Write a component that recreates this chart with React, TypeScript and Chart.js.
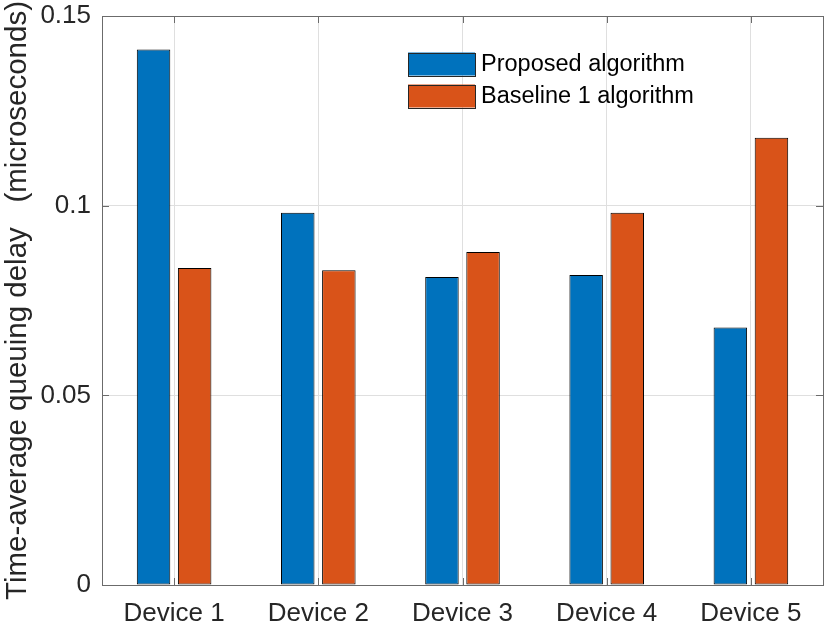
import React, { useEffect, useRef } from 'react';
import { Chart, registerables } from 'chart.js';

Chart.register(...registerables);

const categories = ['Device 1', 'Device 2', 'Device 3', 'Device 4', 'Device 5'];
const proposedDelay = [0.1412, 0.0981, 0.0812, 0.0817, 0.0679];
const baselineDelay = [0.0836, 0.0830, 0.0878, 0.0981, 0.1179];
const seriesNames = ['Proposed algorithm', 'Baseline 1 algorithm'];
const yTicks = [0, 0.05, 0.1, 0.15];

const FONT = "'Liberation Sans', Arial, Helvetica, sans-serif";
const TEXT = '#262626';

// matlab style box with inward ticks and a legend inside the axes
const matlabAxes = {
  id: 'matlabAxes',
  afterDatasetsDraw(chart: any) {
    const { ctx, chartArea } = chart;
    const { left, right, top, bottom } = chartArea;
    const xs = chart.scales.x;
    const ys = chart.scales.y;
    ctx.save();
    ctx.strokeStyle = '#6b6b6b';
    ctx.lineWidth = 1;
    ctx.strokeRect(Math.round(left) + 0.5, Math.round(top) + 0.5, Math.round(right - left), Math.round(bottom - top));
    const tl = 7;
    ctx.beginPath();
    categories.forEach((_, i) => {
      const x = Math.round(xs.getPixelForTick(i)) + 0.5;
      ctx.moveTo(x, bottom);
      ctx.lineTo(x, bottom - tl);
      ctx.moveTo(x, top);
      ctx.lineTo(x, top + tl);
    });
    yTicks.forEach((v) => {
      const y = Math.round(ys.getPixelForValue(v)) + 0.5;
      ctx.moveTo(left, y);
      ctx.lineTo(left + tl, y);
      ctx.moveTo(right, y);
      ctx.lineTo(right - tl, y);
    });
    ctx.stroke();

    // legend
    const bx = left + 306;
    const bw = 67;
    const bh = 23;
    const rows = [top + 48, top + 80];
    ctx.font = `23.5px ${FONT}`;
    ctx.textBaseline = 'middle';
    ctx.textAlign = 'left';
    chart.data.datasets.forEach((ds: any, i: number) => {
      const cy = rows[i];
      ctx.fillStyle = ds.backgroundColor;
      ctx.fillRect(bx, cy - bh / 2, bw, bh);
      ctx.strokeStyle = '#262626';
      ctx.strokeRect(bx + 0.5, Math.round(cy - bh / 2) + 0.5, bw, bh);
      ctx.fillStyle = '#000';
      ctx.fillText(ds.label, bx + bw + 6, cy + 1);
    });
    ctx.restore();
  },
};

export default function App() {
  const canvasRef = useRef<HTMLCanvasElement>(null);

  useEffect(() => {
    if (!canvasRef.current) return;
    const chart = new Chart(canvasRef.current, {
      type: 'bar',
      data: {
        labels: categories,
        datasets: [
          {
            label: seriesNames[0],
            data: proposedDelay,
            backgroundColor: '#0072BD',
            borderColor: '#000000',
            borderWidth: 1,
            borderSkipped: false,
            categoryPercentage: 0.57,
            barPercentage: 0.815,
          },
          {
            label: seriesNames[1],
            data: baselineDelay,
            backgroundColor: '#D95319',
            borderColor: '#000000',
            borderWidth: 1,
            borderSkipped: false,
            categoryPercentage: 0.57,
            barPercentage: 0.815,
          },
        ],
      },
      options: {
        animation: false,
        responsive: true,
        maintainAspectRatio: false,
        layout: { padding: { top: 16, right: 7, left: 0, bottom: 0 } },
        plugins: {
          legend: { display: false },
          tooltip: { enabled: false },
        },
        scales: {
          x: {
            afterFit: (s: any) => {
              s.height = 46;
              s.paddingLeft = 0;
              s.paddingRight = 0;
            },
            grid: { offset: false, color: '#dfdfdf', drawTicks: false },
            border: { display: false },
            ticks: { color: TEXT, font: { family: FONT, size: 26 }, padding: 13, maxRotation: 0 },
          },
          y: {
            min: 0,
            max: 0.15,
            afterFit: (s: any) => {
              s.width = 102;
              s.paddingTop = 0;
              s.paddingBottom = 0;
            },
            afterBuildTicks: (s: any) => { s.ticks = yTicks.map((v) => ({ value: v })); },
            grid: { color: '#dfdfdf', drawTicks: false },
            border: { display: false },
            ticks: {
              color: TEXT,
              font: { family: FONT, size: 26 },
              padding: 11,
              callback: (v: any) => String(v),
            },
            title: {
              display: true,
              text: 'Time-average queuing delay   (microseconds)',
              color: TEXT,
              font: { family: FONT, size: 29.5 },
              padding: 0,
            },
          },
        },
      },
      plugins: [matlabAxes],
    });
    return () => chart.destroy();
  }, []);

  return (
    <div style={{ position: 'absolute', left: 0, top: 0, width: 830, height: 631, background: '#fff' }}>
      <canvas ref={canvasRef} />
    </div>
  );
}
